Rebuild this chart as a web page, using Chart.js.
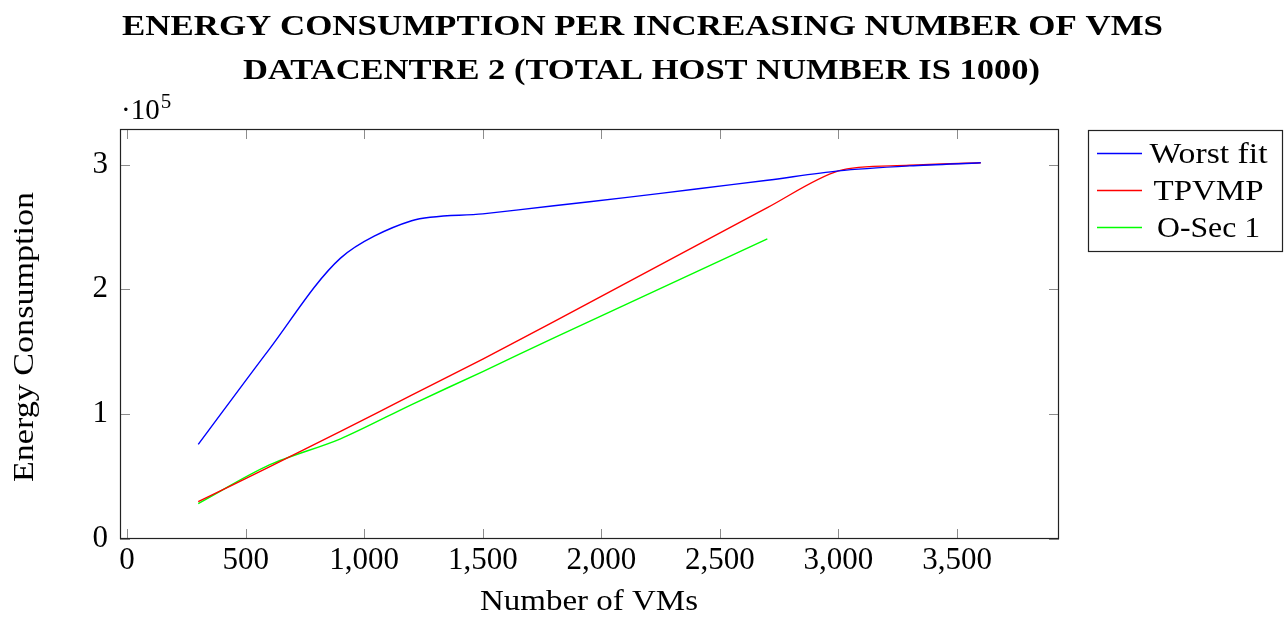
<!DOCTYPE html>
<html>
<head>
<meta charset="utf-8">
<script src="https://cdn.jsdelivr.net/npm/chart.js@4/dist/chart.umd.min.js"></script>
<style>
  html, body { margin: 0; padding: 0; background: #ffffff; }
  #wrap { width: 1288px; height: 617px; position: relative; }
</style>
</head>
<body>
<div id="wrap"><canvas id="c" width="1288" height="617"></canvas></div>
<script>
// ---- Data ----
const titleLines = ["ENERGY CONSUMPTION PER INCREASING NUMBER OF VMS", "DATACENTRE 2 (TOTAL HOST NUMBER IS 1000)"];
const xAxisTitle = "Number of VMs";
const yAxisTitle = "Energy Consumption";
const seriesNames = ["Worst fit", "TPVMP", "O-Sec 1"];
const vmCounts = [300, 600, 900, 1200, 1500, 1800, 2100, 2400, 2700, 3000, 3300, 3600];
const worstFit = [75500, 152000, 225000, 255000, 260500, 267000, 273500, 280500, 287500, 295000, 299000, 301500];
const tpvmp    = [29500, 57500, 86000, 115000, 144000, 174000, 204500, 235000, 265500, 295000, 299500, 301500];
const oSec1    = [28000, 59000, 80000, 107500, 134000, 161000, 187500, 214000, 240500];
const xTickValues = [0, 500, 1000, 1500, 2000, 2500, 3000, 3500];
const yTickValues = [0, 100000, 200000, 300000];

const seriesColors = ["#0000ff", "#ff0000", "#00ff00"];
const seriesValues = [worstFit, tpvmp, oSec1];

const SERIF = "'Liberation Serif', 'DejaVu Serif', serif";

function toPoints(xs, ys) { return ys.map((y, i) => ({ x: xs[i], y: y })); }

const datasets = seriesNames.map((name, i) => ({
  label: name,
  data: toPoints(vmCounts, seriesValues[i]),
  borderColor: seriesColors[i],
  backgroundColor: seriesColors[i],
  borderWidth: 1.4,
  pointRadius: 0,
  tension: 0.3,
  fill: false
}));

function drawStretched(ctx, text, x, y, font, targetWidth, align) {
  ctx.save();
  ctx.font = font;
  const w = ctx.measureText(text).width;
  const s = targetWidth / w;
  ctx.translate(x, y);
  ctx.scale(s, 1);
  ctx.textAlign = align || 'center';
  ctx.textBaseline = 'alphabetic';
  ctx.fillText(text, 0, 0);
  ctx.restore();
}

const decorPlugin = {
  id: 'decor',
  afterDraw(chart) {
    const ctx = chart.ctx;
    const a = chart.chartArea;
    const xs = chart.scales.x, ys = chart.scales.y;
    ctx.save();
    ctx.fillStyle = '#000';
    // Title
    drawStretched(ctx, titleLines[0], 642.5, 35, "bold 30px " + SERIF, 1041, 'center');
    drawStretched(ctx, titleLines[1], 641.5, 79, "bold 30px " + SERIF, 797, 'center');
    // multiplier
    ctx.font = "29px " + SERIF;
    ctx.textAlign = 'left';
    ctx.textBaseline = 'alphabetic';
    ctx.fillText("\u00B710", 121, 119);
    const wm = ctx.measureText("\u00B710").width;
    ctx.font = "21px " + SERIF;
    ctx.fillText("5", 121 + wm + 1, 108);
    // axis titles
    drawStretched(ctx, xAxisTitle, 589, 610, "30px " + SERIF, 218, 'center');
    ctx.save();
    ctx.translate(33, 337);
    ctx.rotate(-Math.PI / 2);
    drawStretched(ctx, yAxisTitle, 0, 0, "30px " + SERIF, 290, 'center');
    ctx.restore();

    // inward ticks
    ctx.strokeStyle = 'rgba(0,0,0,0.45)';
    ctx.lineWidth = 1;
    const tl = 10;
    xTickValues.forEach(v => {
      const px = Math.round(xs.getPixelForValue(v)) + 0.5;
      ctx.beginPath();
      ctx.moveTo(px, a.bottom); ctx.lineTo(px, a.bottom - tl);
      ctx.moveTo(px, a.top); ctx.lineTo(px, a.top + tl);
      ctx.stroke();
    });
    yTickValues.forEach(v => {
      const py = Math.round(ys.getPixelForValue(v)) + 0.5;
      ctx.beginPath();
      ctx.moveTo(a.left, py); ctx.lineTo(a.left + tl, py);
      ctx.moveTo(a.right, py); ctx.lineTo(a.right - tl, py);
      ctx.stroke();
    });
    // frame
    ctx.strokeStyle = '#222';
    ctx.lineWidth = 1.2;
    ctx.strokeRect(a.left + 0.5, a.top + 0.5, a.right - a.left - 1, a.bottom - a.top - 1);

    // legend
    const lx0 = 1088, ly0 = 130, lx1 = 1283, ly1 = 252;
    ctx.fillStyle = '#fff';
    ctx.fillRect(lx0, ly0, lx1 - lx0, ly1 - ly0);
    ctx.strokeStyle = '#222';
    ctx.lineWidth = 1.2;
    ctx.strokeRect(lx0 + 0.5, ly0 + 0.5, lx1 - lx0 - 1, ly1 - ly0 - 1);
    const rowY = [153, 190, 227];
    const textW = [118, 110, 103];
    seriesNames.forEach((name, i) => {
      ctx.strokeStyle = seriesColors[i];
      ctx.lineWidth = 1.4;
      ctx.beginPath();
      ctx.moveTo(1097, rowY[i] + 0.5);
      ctx.lineTo(1142, rowY[i] + 0.5);
      ctx.stroke();
      ctx.fillStyle = '#000';
      drawStretched(ctx, name, 1208.5, rowY[i] + 10, "30px " + SERIF, textW[i], 'center');
    });
    ctx.restore();
  }
};

new Chart(document.getElementById('c'), {
  type: 'line',
  data: { datasets: datasets },
  options: {
    responsive: false,
    devicePixelRatio: 1,
    animation: false,
    layout: { padding: { left: 0, top: 129, right: 229, bottom: 0 } },
    plugins: { legend: { display: false }, title: { display: false }, tooltip: { enabled: false } },
    scales: {
      x: {
        type: 'linear',
        min: -30,
        max: 3930,
        afterFit(scale) { scale.height = 78; },
        afterBuildTicks(scale) { scale.ticks = xTickValues.map(v => ({ value: v })); },
        grid: { display: false, drawTicks: false },
        border: { display: false },
        ticks: {
          padding: 3,
          color: '#000',
          font: { family: SERIF, size: 31 },
          maxRotation: 0,
          autoSkip: false,
          callback: v => v.toLocaleString('en-US')
        }
      },
      y: {
        type: 'linear',
        min: -400,
        max: 328600,
        afterFit(scale) { scale.width = 120; },
        afterBuildTicks(scale) { scale.ticks = yTickValues.map(v => ({ value: v })); },
        grid: { display: false, drawTicks: false },
        border: { display: false },
        ticks: {
          padding: 12,
          color: '#000',
          font: { family: SERIF, size: 31 },
          autoSkip: false,
          callback: v => String(Math.round(v / 100000))
        }
      }
    }
  },
  plugins: [decorPlugin]
});
</script>
</body>
</html>
